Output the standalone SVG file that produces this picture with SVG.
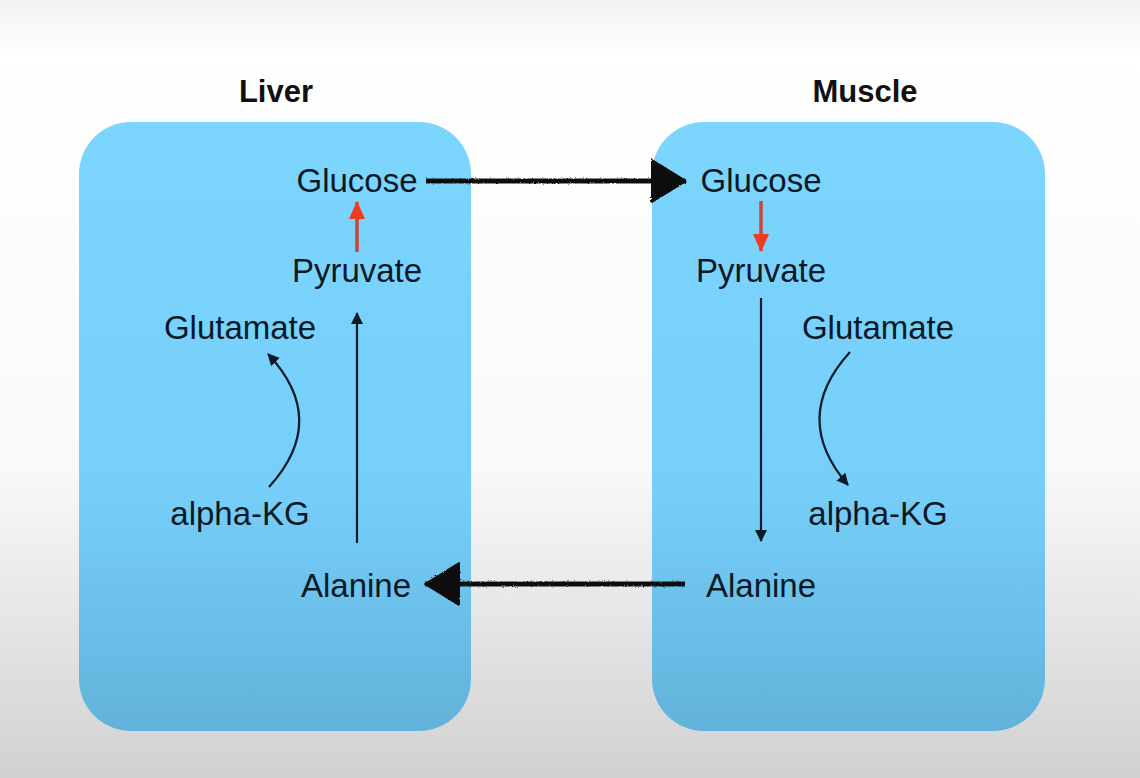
<svg xmlns="http://www.w3.org/2000/svg" width="1140" height="778" viewBox="0 0 1140 778">
<defs>
<linearGradient id="bg" x1="0" y1="0" x2="0" y2="1">
<stop offset="0" stop-color="#f1f1f1"/>
<stop offset="0.07" stop-color="#ffffff"/>
<stop offset="0.6" stop-color="#f9f9f9"/>
<stop offset="1" stop-color="#d1d1d1"/>
</linearGradient>
<linearGradient id="box" x1="0" y1="0" x2="0" y2="1">
<stop offset="0" stop-color="#7bd5fd"/>
<stop offset="0.6" stop-color="#76cff9"/>
<stop offset="1" stop-color="#62b2db"/>
</linearGradient>
<marker id="thin" viewBox="0 0 12 12" refX="11" refY="6" markerWidth="12" markerHeight="12" markerUnits="userSpaceOnUse" orient="auto">
<path d="M0,0 L12,6 L0,12 Z" fill="#0b1a28"/>
</marker>
<marker id="red" viewBox="0 0 18 16" refX="17" refY="8" markerWidth="18" markerHeight="16" markerUnits="userSpaceOnUse" orient="auto">
<path d="M0,0 L18,8 L0,16 Z" fill="#f03a22"/>
</marker>
<marker id="thick" viewBox="0 0 36 44" refX="35" refY="22" markerWidth="36" markerHeight="44" markerUnits="userSpaceOnUse" orient="auto">
<path d="M1,1 L35,22 L1,43 Z" fill="#111" stroke="#111" stroke-width="2" stroke-linejoin="round"/>
</marker>
<filter id="rough" filterUnits="userSpaceOnUse" x="0" y="0" width="1140" height="778">
<feTurbulence type="fractalNoise" baseFrequency="0.6" numOctaves="2" seed="3"/>
<feDisplacementMap in="SourceGraphic" scale="2.5"/>
</filter>
</defs>
<style>
.lbl{font-family:"Liberation Sans",Arial,Helvetica,sans-serif;font-size:33px;fill:#0a1826;text-anchor:middle}
.ttl{font-family:"Liberation Sans",Arial,Helvetica,sans-serif;font-size:31px;font-weight:bold;fill:#111;text-anchor:middle}
.thin{fill:none;stroke:#0b1a28;stroke-width:2.2;marker-end:url(#thin)}
.red{fill:none;stroke:#c8463e;stroke-width:3.5;marker-end:url(#red)}
.thick{fill:none;stroke:#111;stroke-width:5;marker-end:url(#thick);filter:url(#rough)}
</style>
<rect x="0" y="0" width="1140" height="778" fill="url(#bg)"/>
<g id="liver">
<rect x="79" y="122" width="392" height="609" rx="52" ry="52" fill="url(#box)"/>
<text class="ttl" x="276" y="102">Liver</text>
</g>
<g id="muscle">
<rect x="652" y="122" width="393" height="609" rx="52" ry="52" fill="url(#box)"/>
<text class="ttl" x="865" y="102">Muscle</text>
</g>
<g id="liver-glucose"><text class="lbl" x="357" y="192">Glucose</text></g>
<g id="liver-pyruvate"><text class="lbl" x="357" y="282">Pyruvate</text></g>
<g id="liver-glutamate"><text class="lbl" x="240" y="339">Glutamate</text></g>
<g id="liver-akg"><text class="lbl" x="240" y="525">alpha-KG</text></g>
<g id="liver-alanine"><text class="lbl" x="356" y="597">Alanine</text></g>
<g id="muscle-glucose"><text class="lbl" x="761" y="192">Glucose</text></g>
<g id="muscle-pyruvate"><text class="lbl" x="761" y="282">Pyruvate</text></g>
<g id="muscle-glutamate"><text class="lbl" x="878" y="339">Glutamate</text></g>
<g id="muscle-akg"><text class="lbl" x="878" y="525">alpha-KG</text></g>
<g id="muscle-alanine"><text class="lbl" x="761" y="597">Alanine</text></g>
<g id="connectors">
<path class="red" d="M357,252 L357,202"/>
<path class="red" d="M761,201 L761,251"/>
<path class="thin" d="M357,543 L357,313"/>
<path class="thin" d="M761,298 L761,541"/>
<path class="thin" d="M269,487 Q330,420 268,354"/>
<path class="thin" d="M850,352 Q790,418 848,485"/>
<path class="thick" d="M426,181 L686,181"/>
<path class="thick" d="M685,584 L425,584"/>
</g>
</svg>
